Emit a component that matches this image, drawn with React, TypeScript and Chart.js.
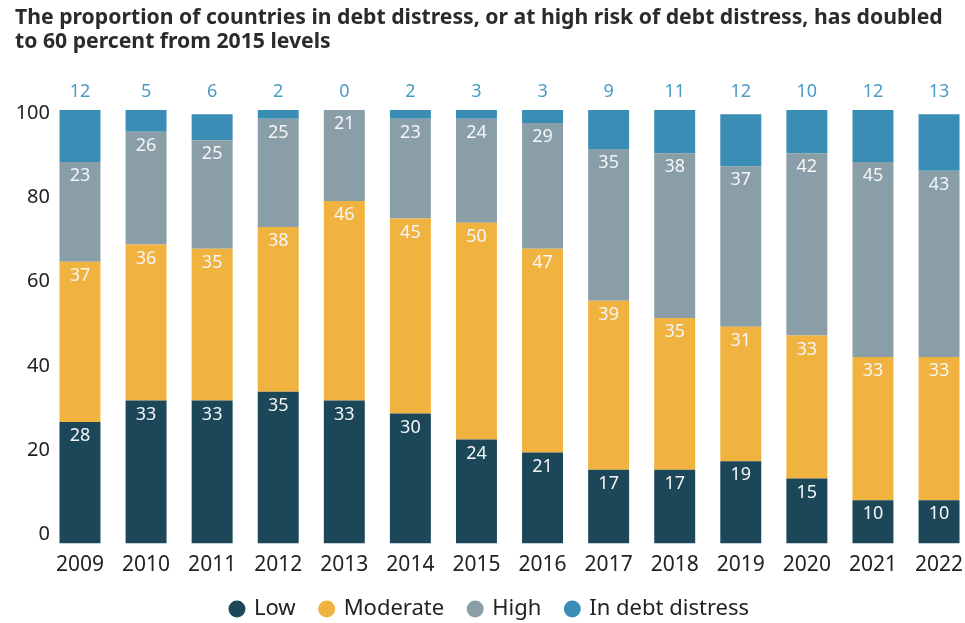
import { useEffect, useRef } from 'react';
import { Chart, registerables } from 'chart.js';

Chart.register(...registerables);

const titleLines = [
  'The proportion of countries in debt distress, or at high risk of debt distress, has doubled',
  'to 60 percent from 2015 levels',
];
const years = [2009, 2010, 2011, 2012, 2013, 2014, 2015, 2016, 2017, 2018, 2019, 2020, 2021, 2022];
const low = [28, 33, 33, 35, 33, 30, 24, 21, 17, 17, 19, 15, 10, 10];
const moderate = [37, 36, 35, 38, 46, 45, 50, 47, 39, 35, 31, 33, 33, 33];
const high = [23, 26, 25, 25, 21, 23, 24, 29, 35, 38, 37, 42, 45, 43];
const distress = [12, 5, 6, 2, 0, 2, 3, 3, 9, 11, 12, 10, 12, 13];
const seriesNames = ['Low', 'Moderate', 'High', 'In debt distress'];
const seriesColors = ['#1c4758', '#f1b33f', '#8a9ea8', '#3a8db5'];
const yTickValues = [0, 20, 40, 60, 80, 100];

const FONT = '"Noto Sans", sans-serif';

const valueLabels = {
  id: 'valueLabels',
  afterDatasetsDraw(chart: any) {
    const ctx = chart.ctx;
    ctx.save();
    ctx.font = `18px ${FONT}`;
    ctx.textAlign = 'center';
    ctx.textBaseline = 'middle';
    for (let di = 0; di < 3; di++) {
      const meta = chart.getDatasetMeta(di);
      const vals = chart.data.datasets[di].data;
      meta.data.forEach((bar: any, i: number) => {
        ctx.fillStyle = '#f4f6f7';
        ctx.fillText(String(vals[i]), bar.x, bar.y + 14);
      });
    }
    const topY = chart.scales.y.getPixelForValue(100) - 18;
    const meta3 = chart.getDatasetMeta(3);
    const vals3 = chart.data.datasets[3].data;
    meta3.data.forEach((bar: any, i: number) => {
      ctx.fillStyle = '#4a9cc6';
      ctx.fillText(String(vals3[i]), bar.x, topY);
    });
    ctx.restore();
  },
};

export default function App() {
  const ref = useRef<HTMLCanvasElement | null>(null);

  useEffect(() => {
    if (!ref.current) return;
    const series = [low, moderate, high, distress];
    const chart = new Chart(ref.current, {
      type: 'bar',
      data: {
        labels: years,
        datasets: series.map((d, i) => ({
          label: seriesNames[i],
          data: d,
          backgroundColor: seriesColors[i],
          borderWidth: 0,
          yAxisID: 'y',
          categoryPercentage: 1,
          barPercentage: 0.62,
        })),
      },
      options: {
        responsive: false,
        animation: false,
        layout: { padding: { left: 15, right: 0, top: 0, bottom: -7 } },
        scales: {
          x: {
            type: 'linear',
            stacked: true,
            offset: false,
            min: years[0] - 0.378,
            max: years[years.length - 1] + 0.393,
            grid: { display: false, drawTicks: false, offset: false },
            border: { display: false },
            afterBuildTicks: (s: any) => {
              s.ticks = years.map((v) => ({ value: v }));
            },
            ticks: {
              autoSkip: false,
              maxRotation: 0,
              padding: 9,
              color: '#222',
              font: { family: FONT, size: 21 },
              callback: (v: any) => String(v),
            },
            afterFit: (s: any) => {
              s.height = 29.5;
              s.paddingLeft = 0;
              s.paddingRight = 0;
            },
          },
          y: {
            stacked: true,
            display: false,
            min: 0,
            max: 100,
          },
          yl: {
            type: 'linear',
            position: 'left',
            min: -2.14,
            max: 100.71,
            grid: { display: false, drawTicks: false },
            border: { display: false },
            afterBuildTicks: (s: any) => {
              s.ticks = yTickValues.map((v) => ({ value: v }));
            },
            ticks: {
              padding: 5,
              color: '#222',
              font: { family: FONT, size: 20 },
              callback: (v: any) => String(v),
            },
            afterFit: (s: any) => {
              s.width = 40;
              s.paddingTop = 0;
              s.paddingBottom = 0;
            },
          },
        },
        plugins: {
          title: {
            display: true,
            text: titleLines,
            align: 'start',
            color: '#2b2b2b',
            font: { family: FONT, size: 21.2, weight: 'bold', lineHeight: 24 / 21.2 },
            padding: { top: 6, bottom: 56 },
          },
          legend: {
            position: 'bottom',
            labels: {
              usePointStyle: true,
              pointStyle: 'circle',
              boxWidth: 12,
              boxHeight: 12,
              padding: 25,
              color: '#222',
              font: { family: FONT, size: 22 },
            },
          },
          tooltip: { enabled: false },
        },
      },
      plugins: [valueLabels],
    });
    return () => chart.destroy();
  }, []);

  return (
    <div style={{ width: 965, height: 623, background: '#fff' }}>
      <style>{'body{margin:0;background:#fff;}'}</style>
      <canvas ref={ref} width={965} height={623} style={{ display: 'block' }} />
    </div>
  );
}
